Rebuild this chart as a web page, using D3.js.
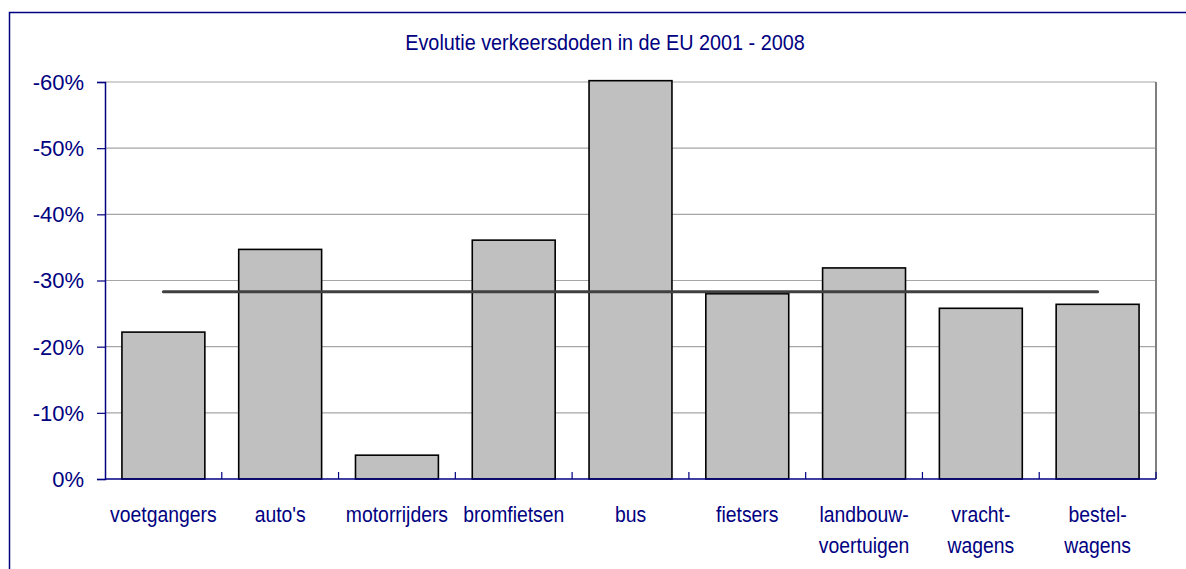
<!DOCTYPE html>
<html>
<head>
<meta charset="utf-8">
<script src="https://cdn.jsdelivr.net/npm/d3@7"></script>
<style>
  body { margin: 0; background: #fff; }
  text { font-family: "Liberation Sans", Arial, sans-serif; fill: #000080; }
</style>
</head>
<body>
<div id="chart"></div>
<script>
// data (decrease in road deaths, %)
const categories = [
    ["voetgangers"], ["auto's"], ["motorrijders"], ["bromfietsen"], ["bus"],
    ["fietsers"], ["landbouw-", "voertuigen"], ["vracht-", "wagens"], ["bestel-", "wagens"]
];
const values = [22.2, 34.7, 3.6, 36.1, 60.2, 28.0, 31.9, 25.8, 26.4];
const average = 28.3;
const yTicks = [0, 10, 20, 30, 40, 50, 60];
const title = "Evolutie verkeersdoden in de EU 2001 - 2008";

const width = 1186, height = 569;
const margin = {top: 82, right: 30, bottom: 90, left: 105};
const plotW = width - margin.left - margin.right;
const plotH = height - margin.top - margin.bottom;
const navy = "#000080";

const svg = d3.select("#chart").append("svg")
    .attr("width", width)
    .attr("height", height);

// outer frame (runs off the picture at right and bottom)
svg.append("rect")
    .attr("x", 9.5).attr("y", 12.5)
    .attr("width", 1300).attr("height", 700)
    .attr("fill", "none")
    .attr("stroke", navy)
    .attr("stroke-width", 1.5);

svg.append("text")
    .attr("transform", "translate(605,50) scale(0.88,1)")
    .attr("text-anchor", "middle")
    .attr("font-size", 22.5)
    .text(title);

const chart = svg.append("g")
    .attr("transform", `translate(${margin.left},${margin.top})`);

const x = d3.scaleBand()
    .domain(d3.range(categories.length))
    .range([0, plotW])
    .paddingInner(0.29)
    .paddingOuter(0.145);

const xCat = d3.scaleLinear()
    .domain([0, categories.length])
    .range([0, plotW]);

const y = d3.scaleLinear()
    .domain([0, 60])
    .range([plotH, 0]);

// gridlines
chart.selectAll(".grid")
    .data(yTicks.filter(d => d > 0))
    .join("line")
    .attr("class", "grid")
    .attr("x1", 0).attr("x2", plotW)
    .attr("y1", d => y(d)).attr("y2", d => y(d))
    .attr("stroke", "#a6a6a6")
    .attr("stroke-width", 1.2);

// right border of plot area
chart.append("line")
    .attr("x1", plotW).attr("x2", plotW)
    .attr("y1", 0).attr("y2", plotH)
    .attr("stroke", "#808080")
    .attr("stroke-width", 2);

// bars
chart.selectAll(".bar")
    .data(values)
    .join("rect")
    .attr("class", "bar")
    .attr("x", (d, i) => x(i))
    .attr("width", x.bandwidth())
    .attr("y", d => y(d))
    .attr("height", d => plotH - y(d))
    .attr("fill", "#c0c0c0")
    .attr("stroke", "#000")
    .attr("stroke-width", 1.6);

// average line from first to last category centre
chart.append("line")
    .attr("x1", xCat(0.5)).attr("x2", xCat(categories.length - 0.5))
    .attr("y1", y(average)).attr("y2", y(average))
    .attr("stroke", "#404040")
    .attr("stroke-width", 3)
    .attr("stroke-linecap", "round");

// y axis
const yAxis = chart.append("g")
    .call(d3.axisLeft(y).tickValues(yTicks).tickSize(8).tickFormat(d => d === 0 ? "0%" : `-${d}%`));
yAxis.select(".domain").attr("stroke", navy).attr("stroke-width", 1.5);
yAxis.selectAll(".tick line").attr("stroke", navy).attr("stroke-width", 1.2);
yAxis.selectAll(".tick text")
    .attr("fill", navy)
    .attr("font-size", 22)
    .attr("font-family", "Liberation Sans, Arial, sans-serif")
    .attr("x", -21)
    .attr("dy", "0.34em");

// x axis baseline and category boundary ticks
chart.append("line")
    .attr("x1", 0).attr("x2", plotW)
    .attr("y1", plotH).attr("y2", plotH)
    .attr("stroke", navy)
    .attr("stroke-width", 1.5);

chart.selectAll(".xtick")
    .data(d3.range(1, categories.length + 1))
    .join("line")
    .attr("class", "xtick")
    .attr("x1", d => xCat(d)).attr("x2", d => xCat(d))
    .attr("y1", plotH).attr("y2", plotH - 7)
    .attr("stroke", navy)
    .attr("stroke-width", 1.2);

// category labels
const labels = chart.selectAll(".xlabel")
    .data(categories)
    .join("text")
    .attr("class", "xlabel")
    .attr("text-anchor", "middle")
    .attr("font-size", 22)
    .attr("transform", (d, i) => `translate(${xCat(i + 0.5)},${plotH + 43}) scale(0.88,1)`);

labels.selectAll("tspan")
    .data(d => d)
    .join("tspan")
    .attr("x", 0)
    .attr("dy", (d, i) => i === 0 ? 0 : 31)
    .text(d => d);
</script>
</body>
</html>
